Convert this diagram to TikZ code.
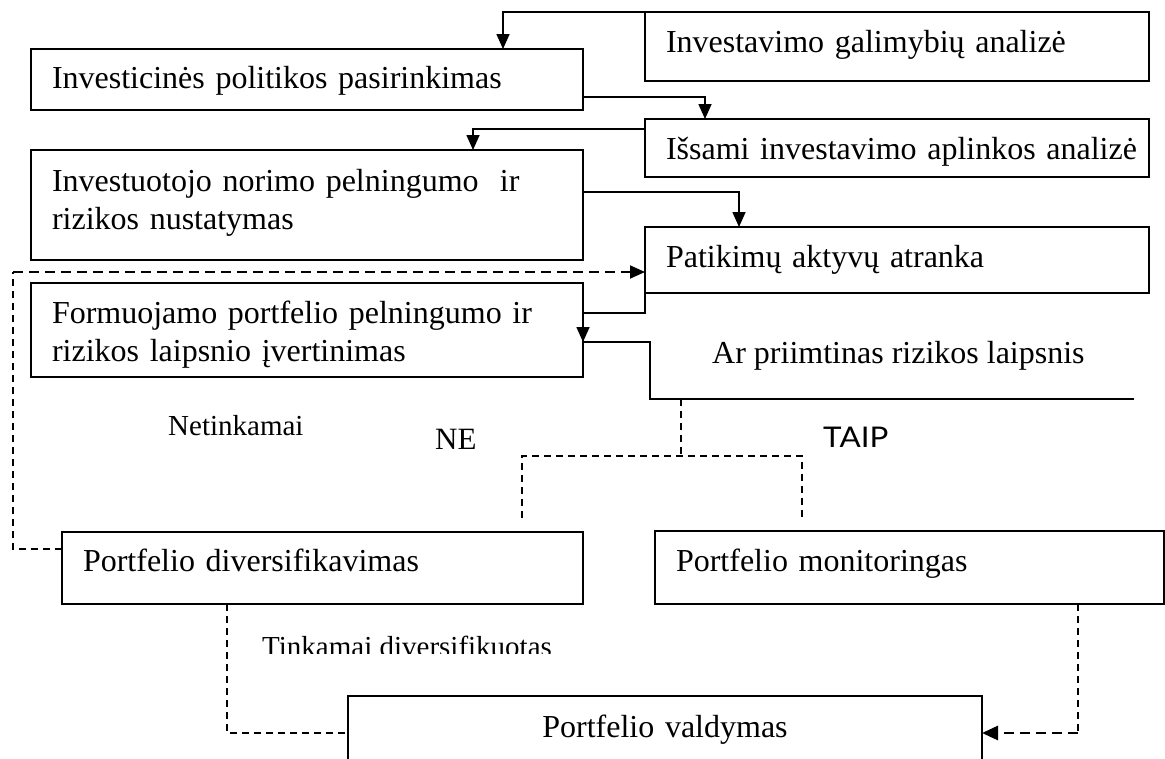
\documentclass[tikz,border=0pt]{standalone}
\usepackage{fontspec}
\setmainfont{Liberation Serif}
\newfontfamily\taipfont[FakeStretch=1.1]{Lato}
\usetikzlibrary{arrows.meta}
\begin{document}
\begin{tikzpicture}[x=1pt,y=-1pt,
  box/.style={draw, line width=1.4pt, anchor=north west, outer sep=0pt, inner xsep=21pt, inner ysep=0pt, align=left, font=\fontsize{32}{38}\selectfont, text height=22pt},
  arr/.style={line width=1.6pt, -{Triangle[length=15pt,width=13pt]}},
  sline/.style={line width=1.6pt},
  dsh/.style={line width=1.2pt, dash pattern=on 7pt off 5pt},
  dshb/.style={line width=1.8pt, dash pattern=on 10pt off 6pt},
  dshB/.style={line width=2.8pt, dash pattern=on 10pt off 6pt},
  lbl/.style={anchor=base west, inner sep=0pt}
]
\fill[white] (0,0) rectangle (1165,758);
\useasboundingbox (0,0) rectangle (1165,758);

% boxes
\node[box, minimum width=504pt, minimum height=69pt, text width=462pt, text depth=11pt] (gal) at (645,12) {\mbox{Investavimo galimybių analizė}};
\node[box, minimum width=552pt, minimum height=61pt, text width=510pt, text depth=5pt] (inv) at (31,49) {\mbox{Investicinės politikos pasirinkimas}};
\node[box, minimum width=504pt, minimum height=58pt, text width=462pt, text depth=0pt] (iss) at (645,119) {\mbox{Išsami investavimo aplinkos analizė}};
\node[box, minimum width=552pt, minimum height=110pt, text width=510pt, text depth=50pt] (ino) at (31,150) {Investuotojo norimo pelningumo \ ir\\rizikos nustatymas};
\node[box, minimum width=504pt, minimum height=66pt, text width=462pt, text depth=8pt] (pat) at (645,227) {\mbox{Patikimų aktyvų atranka}};
\node[box, minimum width=552pt, minimum height=94pt, text width=510pt, text depth=36pt] (frm) at (31,283) {Formuojamo portfelio pelningumo ir\\rizikos laipsnio įvertinimas};
\node[box, minimum width=521pt, minimum height=72pt, text width=479pt, text depth=16pt] (div) at (62,532) {\mbox{Portfelio diversifikavimas}};
\node[box, minimum width=509pt, minimum height=73pt, text width=467pt, text depth=15pt] (mon) at (655,531) {\mbox{Portfelio monitoringas}};
\node[box, align=center, minimum width=634pt, minimum height=80pt, text width=592pt, text depth=20pt] (val) at (348,696) {Portfelio valdymas};

% decision text
\node[lbl, font=\fontsize{32}{38}\selectfont] (ar) at (712,363) {Ar priimtinas rizikos laipsnis};

% labels
\node[lbl, font=\fontsize{29}{34}\selectfont] (netk) at (168,435) {Netinkamai};
\node[lbl, font=\fontsize{31}{36}\selectfont] (ne) at (435,449) {NE};
\node[lbl, font=\taipfont\fontsize{28.5}{33}\selectfont] (taip) at (823,447) {TAIP};
\begin{scope}
\clip (0,600) rectangle (1165,653);
\node[lbl, font=\fontsize{29}{34}\selectfont] (tink) at (262,656) {Tinkamai diversifikuotas};
\end{scope}

% solid connectors
\draw[arr] (gal.north west) -| ([xshift=472pt]inv.north west);
\draw[arr] ([yshift=-48pt]inv.north east) -| ([xshift=60pt]iss.north west);
\draw[arr] ([yshift=-10pt]iss.north west) -| ([xshift=442pt]ino.north west);
\draw[arr] ([yshift=-42pt]ino.north east) -| ([xshift=94pt]pat.north west);
\coordinate (arin) at ([yshift=-59pt]frm.north east);
\draw[arr] (pat.south west) -- ++(0,20) -| (arin);

% decision outline
\coordinate (arR) at (1134,399);
\draw[sline] (arin) -- ++(67,0) |- (arR);

% decision branches
\coordinate (dtop) at (681,399);
\coordinate (dmid) at (681,456);
\coordinate (neEnd) at (522,518);
\coordinate (taipEnd) at (802,518);
\draw[dsh] (dtop) -- (dmid);
\draw[dsh] (neEnd) |- (dmid) -| (taipEnd);

% Netinkamai loop
\coordinate (lc) at (13,272);
\draw[dsh] ([yshift=-17pt]div.north west) -| (lc);
\draw[dshb, -{Triangle[length=15pt,width=13pt]}] (lc) -- ([yshift=-45pt]pat.north west);

% to Portfelio valdymas
\draw[dsh] ([xshift=165pt]div.south west) |- ([yshift=-37pt]val.north west);
\coordinate (mc) at (1078,733);
\draw[dsh, line width=1.6pt] ([xshift=423pt]mon.south west) -- (mc);
\draw[dshB, -{Triangle[length=16pt,width=14pt]}] (mc) -- ([yshift=-37pt]val.north east);
\end{tikzpicture}
\end{document}
